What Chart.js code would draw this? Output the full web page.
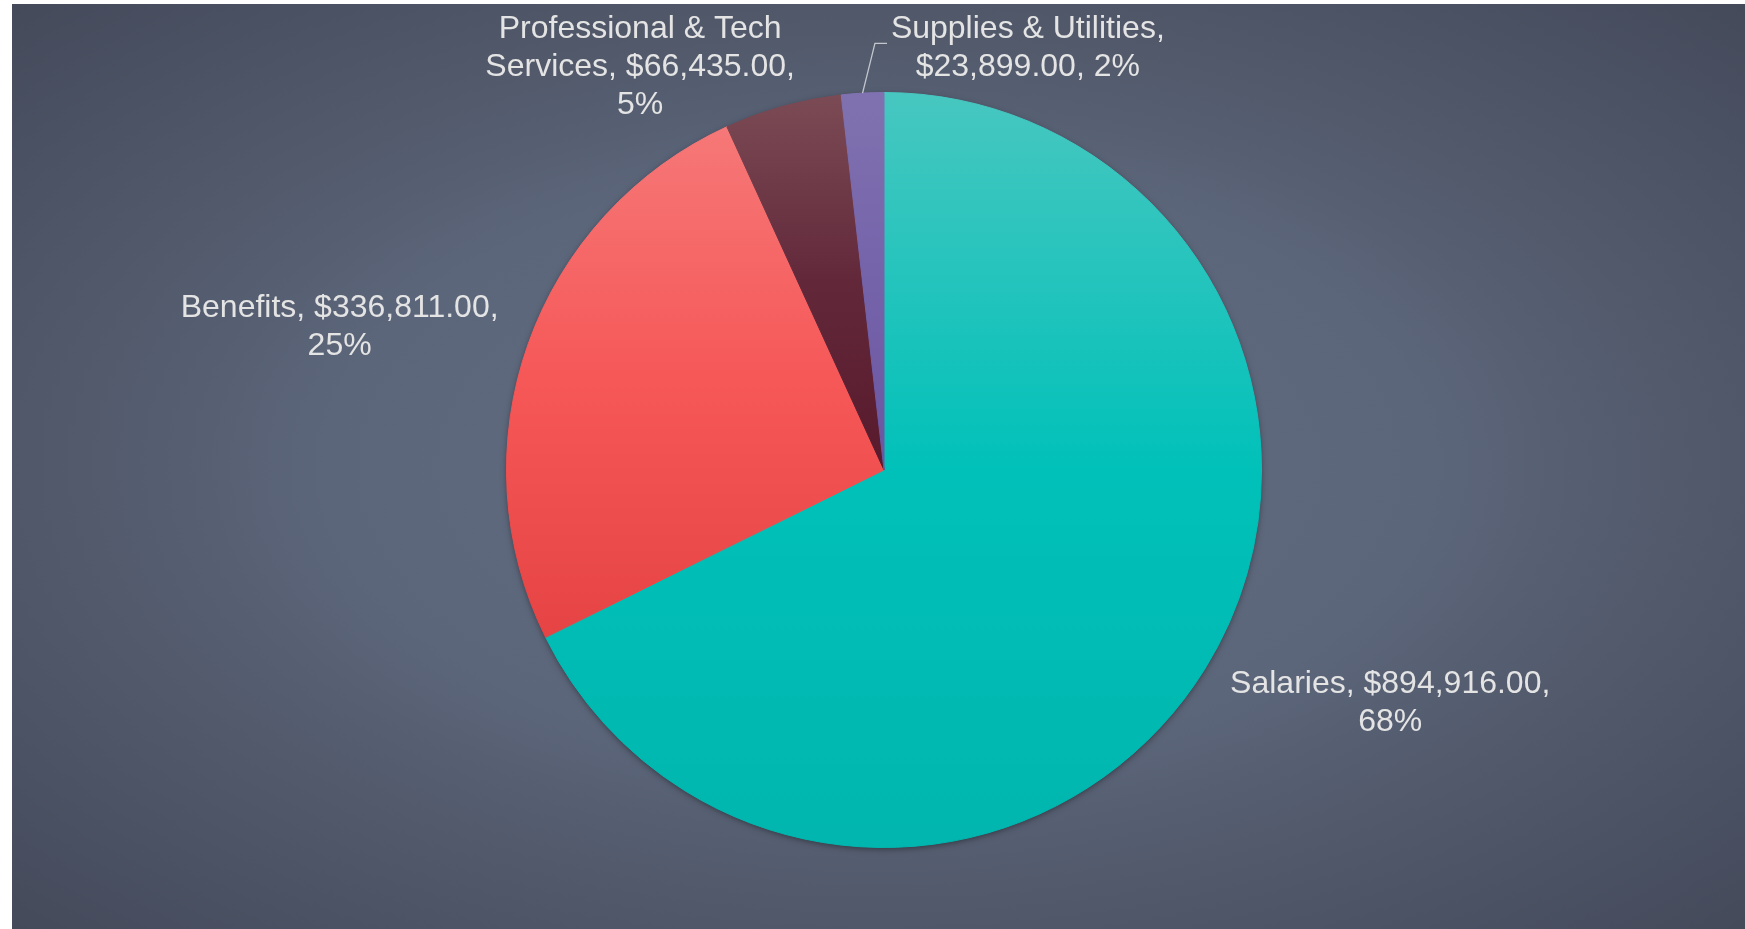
<!DOCTYPE html>
<html>
<head>
<meta charset="utf-8">
<script src="https://cdn.jsdelivr.net/npm/chart.js@4/dist/chart.umd.min.js"></script>
<style>
  html, body { margin:0; padding:0; background:#fff; }
  #bg {
    position:absolute; left:12px; top:4px; width:1733px; height:925px;
    background: radial-gradient(ellipse farthest-corner at 50% 50%, #626d82 0%, #5c667a 45%, #525a6c 65%, #444a5a 100%);
  }
  #wrap { position:absolute; left:0; top:0; width:1745px; height:929px; }
</style>
</head>
<body>
<div id="bg"></div>
<div id="wrap"><canvas id="pie"></canvas></div>
<script>
const categories = ["Salaries", "Benefits", "Professional & Tech Services", "Supplies & Utilities"];
const amounts = [894916, 336811, 66435, 23899];
// label text as shown, already wrapped
const labelLines = [
  ["Salaries, $894,916.00,", "68%"],
  ["Benefits, $336,811.00,", "25%"],
  ["Professional & Tech", "Services, $66,435.00,", "5%"],
  ["Supplies & Utilities,", "$23,899.00, 2%"],
];

// light / base / dark stops per slice
const sliceStops = [
  ["#47c7c0", "#00c1b9", "#00b6ae"],
  ["#f67878", "#f65757", "#e64444"],
  ["#7b4b55", "#62283a", "#581a2c"],
  ["#8072b0", "#7563aa", "#6a56a2"],
];
// label block centre, in pie radius units from the pie centre
const labelAnchor = [[1.341, 0.616], [-1.442, -0.381], [-0.646, -1.069], [0.381, -1.121]];
const total = amounts.reduce((a, b) => a + b, 0);

function sliceFill(ctx){
  const i = ctx.dataIndex;
  const area = ctx.chart.chartArea;
  if (!area) return sliceStops[i][1];
  const cx = (area.left + area.right) / 2, cy = (area.top + area.bottom) / 2;
  const r = Math.min(area.right - area.left, area.bottom - area.top) / 2;
  const cum = amounts.slice(0, i).reduce((a, b) => a + b, 0);
  const a0 = -Math.PI/2 + 2*Math.PI*cum/total;
  const a1 = a0 + 2*Math.PI*amounts[i]/total;
  const ys = [cy, cy + r*Math.sin(a0), cy + r*Math.sin(a1)];
  [-Math.PI/2, Math.PI/2, 3*Math.PI/2].forEach(k => { if (k >= a0 && k <= a1) ys.push(cy + r*Math.sin(k)); });
  const g = ctx.chart.ctx.createLinearGradient(0, Math.min(...ys), 0, Math.max(...ys));
  g.addColorStop(0, sliceStops[i][0]);
  g.addColorStop(0.5, sliceStops[i][1]);
  g.addColorStop(1, sliceStops[i][2]);
  return g;
}

const shadowPlugin = {
  id: "pieShadow",
  beforeDatasetsDraw(chart){
    const arc = chart.getDatasetMeta(0).data[0];
    if (!arc) return;
    const c = chart.ctx;
    c.save();
    c.shadowColor = "rgba(0,0,0,0.5)";
    c.shadowBlur = 7;
    c.shadowOffsetY = 2;
    c.beginPath();
    c.arc(arc.x, arc.y, arc.outerRadius - 1, 0, Math.PI*2);
    c.fillStyle = "#4a5060";
    c.fill();
    c.restore();
  }
};

const labelPlugin = {
  id: "sliceLabels",
  afterDatasetsDraw(chart){
    const c = chart.ctx;
    const arcs = chart.getDatasetMeta(0).data;
    c.save();
    c.font = "32px 'Liberation Sans', Arial, sans-serif";
    c.fillStyle = "#e4e4e4";
    c.textAlign = "center";
    c.textBaseline = "middle";
    const lh = 38;
    arcs.forEach((arc, i) => {
      const r = arc.outerRadius;
      const x = arc.x + labelAnchor[i][0]*r;
      const y = arc.y + labelAnchor[i][1]*r;
      const lines = labelLines[i];
      lines.forEach((t, k) => c.fillText(t, x, y + (k - (lines.length - 1)/2)*lh + 1));
    });
    // leader line for the thin slice
    const s = arcs[3];
    const mid = (s.startAngle + s.endAngle) / 2;
    c.strokeStyle = "#c4c7cd";
    c.lineWidth = 1.3;
    c.beginPath();
    c.moveTo(s.x + Math.cos(mid)*s.outerRadius, s.y + Math.sin(mid)*s.outerRadius);
    c.lineTo(s.x - 0.024*s.outerRadius, s.y - 1.13*s.outerRadius);
    c.lineTo(s.x + 0.008*s.outerRadius, s.y - 1.13*s.outerRadius);
    c.stroke();
    c.restore();
  }
};

new Chart(document.getElementById("pie"), {
  type: "pie",
  data: {
    labels: categories,
    datasets: [{ data: amounts, backgroundColor: sliceFill, borderColor: sliceFill, borderWidth: 1, hoverOffset: 0 }]
  },
  options: {
    responsive: true,
    maintainAspectRatio: false,
    animation: false,
    layout: { padding: { top: 92, bottom: 81, left: 506, right: 483 } },
    plugins: { legend: { display: false }, tooltip: { enabled: false } }
  },
  plugins: [shadowPlugin, labelPlugin]
});
</script>
</body>
</html>
